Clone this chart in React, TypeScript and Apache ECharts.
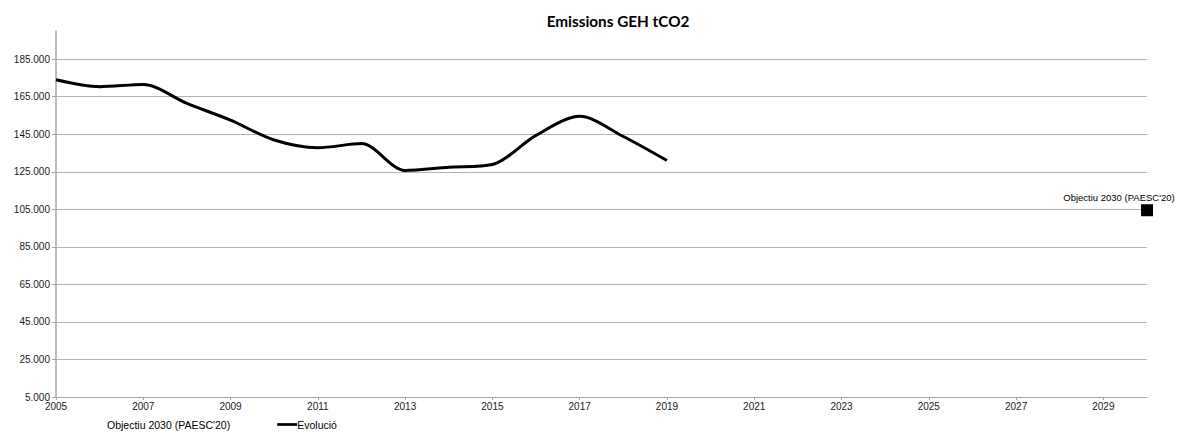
import React, { useEffect, useRef } from "react";
import * as echarts from "echarts";

const years = [
  "2005", "2006", "2007", "2008", "2009", "2010", "2011", "2012", "2013",
  "2014", "2015", "2016", "2017", "2018", "2019", "2020", "2021", "2022",
  "2023", "2024", "2025", "2026", "2027", "2028", "2029", "2030",
];

const evolucio = [
  174000, 170300, 171500, 161400, 152500, 141900, 137800, 140000, 125700,
  127400, 128900, 144400, 154600, 143800, 131000,
];

const objectiuYear = "2030";
const objectiuValue = 104500;

const serieObjectiu = "Objectiu 2030 (PAESC'20)";
const serieEvolucio = "Evolució";
const titleText = "Emissions GEH tCO2";

const fmt = (v: number) =>
  String(Math.round(v)).replace(/\B(?=(\d{3})+(?!\d))/g, ".");

export default function App() {
  const ref = useRef<HTMLDivElement>(null);
  useEffect(() => {
    if (!ref.current) return;
    const chart = echarts.init(ref.current, null, { renderer: "svg" });
    const lineData = years.map((y, i) => (i < evolucio.length ? evolucio[i] : null));
    const targetData = years.map((y) => (y === objectiuYear ? objectiuValue : null));
    chart.setOption({
      animation: false,
      backgroundColor: "#ffffff",
      textStyle: { fontFamily: "Liberation Sans, Arial, sans-serif" },
      title: {
        text: titleText,
        left: 613,
        top: 8,
        textAlign: "center",
        textStyle: {
          fontFamily: "Lato, sans-serif",
          fontWeight: "bold",
          fontSize: 15.3,
          color: "#000",
        },
      },
      grid: { left: 56, right: 32, top: 31, bottom: 37, containLabel: false },
      legend: {
        left: 77,
        top: 414,
        itemGap: 47,
        itemWidth: 20,
        itemHeight: 10,
        textStyle: {
          fontFamily: "Liberation Sans, Arial, sans-serif",
          fontSize: 10.5,
          color: "#000",
        },
        data: [
          { name: serieObjectiu, icon: "none" },
          {
            name: serieEvolucio,
            icon: "path://M0,0 L22,0 L22,3 L0,3 Z",
            textStyle: { padding: [0, 0, 0, -5] },
          },
        ],
      },
      xAxis: {
        type: "category",
        data: years,
        boundaryGap: false,
        axisLine: { show: true, onZero: false, lineStyle: { color: "#a6a6a6", width: 1 } },
        axisTick: {
          show: true,
          interval: 1,
          length: 3,
          lineStyle: { color: "#a6a6a6", width: 1 },
        },
        axisLabel: {
          interval: 1,
          margin: 4,
          fontSize: 10,
          color: "#1a1a1a",
          fontFamily: "Liberation Sans, Arial, sans-serif",
        },
        splitLine: { show: false },
      },
      yAxis: {
        type: "value",
        min: 5000,
        max: 200000,
        interval: 20000,
        axisLine: { show: true, lineStyle: { color: "#a6a6a6", width: 1.5 } },
        axisTick: { show: true, length: 4, lineStyle: { color: "#a6a6a6" } },
        axisLabel: {
          fontSize: 10,
          margin: 6,
          color: "#1a1a1a",
          showMaxLabel: false,
          fontFamily: "Liberation Sans, Arial, sans-serif",
          formatter: (v: number) => fmt(v),
        },
        splitLine: {
          show: true,
          showMaxLine: false,
          lineStyle: { color: "#b3b3b3", width: 1 },
        },
      },
      series: [
        {
          name: serieObjectiu,
          type: "scatter",
          data: targetData,
          symbol: "rect",
          symbolSize: 12,
          itemStyle: { color: "#000", opacity: 1 },
          label: {
            show: true,
            position: "top",
            distance: 2,
            offset: [-28, 0],
            formatter: serieObjectiu,
            fontSize: 9.5,
            color: "#000",
            opacity: 1,
            fontFamily: "Liberation Sans, Arial, sans-serif",
          },
        },
        {
          name: serieEvolucio,
          type: "line",
          data: lineData,
          smooth: 0.3,
          showSymbol: false,
          symbol: "none",
          lineStyle: { color: "#000", width: 3 },
          itemStyle: { color: "#000" },
        },
      ],
    });
    return () => chart.dispose();
  }, []);
  return (
    <div
      ref={ref}
      style={{ position: "fixed", left: 0, top: 0, width: 1179, height: 434 }}
    />
  );
}
